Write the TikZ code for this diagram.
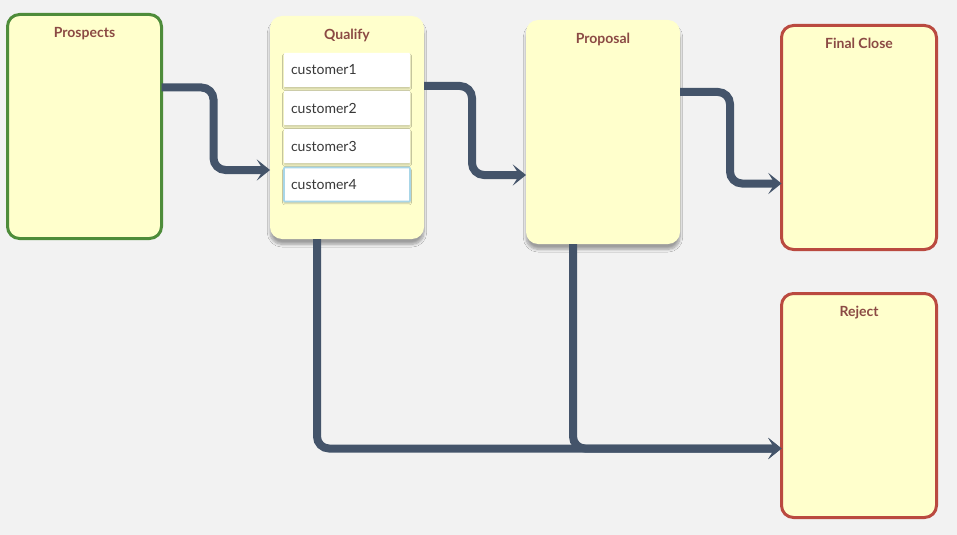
\documentclass[tikz,border=0pt]{standalone}
\usepackage{fontspec}
\setmainfont{Lato}
\usetikzlibrary{arrows.meta,calc,shadows.blur}

\definecolor{bgpaper}{RGB}{242,242,242}
\definecolor{lanefill}{RGB}{255,255,204}
\definecolor{titlered}{RGB}{139,74,68}
\definecolor{lanegreen}{RGB}{78,140,58}
\definecolor{lanered}{RGB}{186,74,64}
\definecolor{flowblue}{RGB}{68,84,106}
\definecolor{cardblue}{RGB}{168,214,232}

\tikzset{
  lane/.style={rectangle, rounded corners=9pt, fill=lanefill, inner sep=0pt, outer sep=0pt},
  lanetitle/.style={anchor=north, yshift=-6pt, font=\fontsize{10.5}{12}\selectfont\bfseries, text=titlered},
  raised/.style={blur shadow={shadow xshift=0pt, shadow yshift=-4pt, shadow blur radius=2pt,
    shadow blur steps=8, shadow opacity=35}},
  card/.style={rectangle, rounded corners=0.5pt, fill=white, minimum width=94.5pt, minimum height=25.5pt,
    text width=84pt, inner xsep=5.25pt, align=left, font=\fontsize{10.5}{12}\selectfont, text=black!78,
    blur shadow={shadow xshift=0pt, shadow yshift=-1.5pt, shadow blur radius=1pt,
      shadow blur steps=4, shadow opacity=20}},
  flow/.style={draw=flowblue, line width=6pt, rounded corners=9pt,
    -{Stealth[length=10pt, width=16pt, inset=5pt]}}
}

\begin{document}
\begin{tikzpicture}[x=0.75pt,y=0.75pt,yscale=-1,xscale=1]
\fill[bgpaper] (0,0) rectangle (957,535);
\useasboundingbox (0,0) rectangle (957,535);

% Lanes
\node [lane, draw=lanegreen, line width=2.25pt, minimum width=115.5pt, minimum height=168pt,
  label={[lanetitle]north:Prospects}] (prospects) at (84.5,126.5) {};
\node [lane, raised, minimum width=115.5pt, minimum height=167.25pt,
  label={[lanetitle]north:Qualify}] (qualify) at (347,127.5) {};
\node [lane, raised, minimum width=115.5pt, minimum height=168pt,
  label={[lanetitle]north:Proposal}] (proposal) at (603,132) {};
\node [lane, draw=lanered, line width=2.25pt, minimum width=116.25pt, minimum height=168pt,
  label={[lanetitle]north:Final Close}] (finalclose) at (859,137.5) {};
\node [lane, draw=lanered, line width=2.25pt, minimum width=116.25pt, minimum height=168pt,
  label={[lanetitle]north:Reject}] (reject) at (859,405.5) {};

% Cards
\node [card] (cust1) at (347,70) {customer1};
\node [card] (cust2) at (347,108) {customer2};
\node [card] (cust3) at (347,146) {customer3};
\node [card, draw=cardblue, line width=1.2pt] (cust4) at (347,184.5) {customer4};

% Connectors
\draw [flow] ($(prospects.north east)+(0,73)$) -- ++(52,0) |- ($(qualify.north west)+(0,154)$);
\draw [flow] ($(qualify.north east)+(0,70)$) -- ++(48,0) |- ($(proposal.north west)+(0,155)$);
\draw [flow] ($(proposal.north east)+(0,72)$) -- ++(50,0) |- ($(finalclose.north west)+(0,158)$);
\draw [flow] ($(qualify.south)+(-30,0)$) |- ($(reject.north west)+(0,155)$);
\draw [flow] ($(proposal.south)+(-30,0)$) |- ($(reject.north west)+(0,155)$);

\end{tikzpicture}
\end{document}
